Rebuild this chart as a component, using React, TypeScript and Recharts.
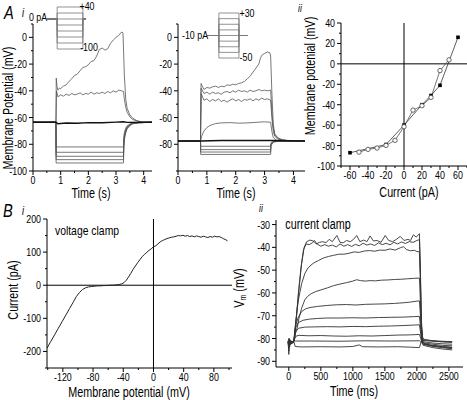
import React from "react";
import { LineChart, Line, XAxis, YAxis, ReferenceLine } from "recharts";

const FONT = '"Liberation Sans", Arial, Helvetica, sans-serif';
const SQ = 0.77; // the figure's lettering is horizontally condensed

// ---------- A i : current clamp traces, 0 pA holding ----------
const aiP40 = [[0,-63.5],[0.5,-63.7],[0.83,-63.5],[0.84,-30.5],[0.87,-37],[0.9,-39.5],[0.95,-38],[1.0,-38.3],[1.1,-36.5],[1.2,-35.5],[1.3,-33],[1.4,-31],[1.5,-28.5],[1.6,-27.5],[1.7,-25],[1.8,-22.5],[1.9,-22],[2.0,-20.5],[2.1,-18],[2.2,-17.5],[2.3,-14],[2.4,-9],[2.5,-8],[2.6,-9.5],[2.7,-8.5],[2.8,-4.5],[2.9,-2],[3.0,0],[3.1,1.5],[3.2,4],[3.25,3.5],[3.27,-8],[3.3,-28],[3.35,-46],[3.4,-53],[3.5,-58],[3.6,-60.5],[3.75,-62.3],[3.9,-63.1],[4.1,-63.5],[4.3,-63.6]];
const aiP20 = [[0,-63.5],[0.83,-63.5],[0.85,-40],[0.9,-44.5],[1.0,-43],[1.1,-44],[1.2,-42.5],[1.3,-43.5],[1.4,-42],[1.5,-43],[1.6,-42.5],[1.7,-41.5],[1.8,-43],[1.9,-42],[2.0,-42.5],[2.1,-41],[2.2,-42.5],[2.3,-41.5],[2.4,-42],[2.5,-41],[2.6,-42],[2.7,-40.5],[2.8,-41.5],[2.9,-40],[3.0,-41],[3.1,-39.5],[3.2,-40],[3.27,-40.5],[3.3,-46],[3.35,-52],[3.4,-56],[3.5,-59.5],[3.6,-61.5],[3.8,-62.8],[4.0,-63.4],[4.3,-63.5]];
const ai0 = [[0,-63.5],[0.83,-63.5],[0.9,-64.6],[1.2,-64.1],[1.6,-64.3],[2.0,-63.8],[2.5,-63.9],[3.0,-63.4],[3.27,-63.2],[3.4,-63.6],[4.3,-63.5]];
const aiM20 = [[0,-63.5],[0.83,-63.5],[0.835,-82],[3.27,-82],[3.28,-76],[3.3,-71.5],[3.35,-68],[3.4,-66.3],[3.5,-64.8],[3.6,-64.1],[3.8,-63.7],[4.3,-63.5]];
const aiM40 = [[0,-63.5],[0.83,-63.5],[0.835,-86],[3.27,-86],[3.28,-78],[3.3,-73],[3.35,-69],[3.4,-67],[3.5,-65.2],[3.6,-64.3],[3.8,-63.8],[4.3,-63.5]];
const aiM60 = [[0,-63.5],[0.83,-63.5],[0.835,-89],[3.27,-89],[3.28,-80],[3.3,-74.5],[3.35,-70],[3.4,-67.6],[3.5,-65.5],[3.6,-64.5],[3.8,-63.9],[4.3,-63.5]];
const aiM80 = [[0,-63.5],[0.83,-63.5],[0.835,-91.5],[3.27,-91.5],[3.28,-81],[3.3,-75.5],[3.35,-70.7],[3.4,-68],[3.5,-65.8],[3.6,-64.6],[3.8,-63.9],[4.3,-63.5]];
const aiM100 = [[0,-63.5],[0.83,-63.5],[0.835,-94],[3.27,-94],[3.28,-83],[3.3,-76.5],[3.35,-71.5],[3.4,-68.5],[3.5,-66],[3.6,-64.7],[3.8,-64],[4.3,-63.5]];

// ---------- A i i : current clamp traces, -10 pA holding ----------
const aiiP30 = [[0,-77.5],[0.78,-77.5],[0.8,-34.5],[0.85,-37],[0.9,-39],[1.0,-37.5],[1.1,-38],[1.2,-37],[1.3,-36.5],[1.4,-37.5],[1.5,-36.5],[1.6,-37],[1.7,-35.5],[1.8,-36],[1.9,-35],[2.0,-35.5],[2.1,-34.5],[2.2,-34],[2.3,-33],[2.4,-31],[2.5,-29],[2.6,-26],[2.7,-23],[2.8,-20],[2.85,-16],[2.9,-13.5],[3.0,-12],[3.1,-11],[3.18,-11.5],[3.21,-14],[3.25,-40],[3.3,-65],[3.35,-72],[3.45,-75],[3.6,-76.5],[3.8,-77.2],[4.4,-77.5]];
const aiiP20 = [[0,-77.5],[0.78,-77.5],[0.8,-38],[0.9,-42],[1.0,-41],[1.1,-42.5],[1.2,-41],[1.3,-42],[1.4,-41.5],[1.5,-42.5],[1.6,-41],[1.7,-40.5],[1.8,-41.5],[1.9,-40],[2.0,-41],[2.1,-39.5],[2.2,-40.5],[2.3,-40],[2.4,-41],[2.5,-39.5],[2.6,-40.5],[2.7,-40],[2.8,-39],[2.9,-40],[3.0,-39.5],[3.1,-40],[3.21,-39.5],[3.25,-55],[3.3,-68],[3.35,-73],[3.45,-75.5],[3.6,-76.8],[3.8,-77.3],[4.4,-77.5]];
const aiiP10 = [[0,-77.5],[0.78,-77.5],[0.8,-42],[0.9,-47],[1.0,-46],[1.1,-48],[1.2,-46.5],[1.3,-47.5],[1.4,-46],[1.5,-48],[1.6,-47],[1.7,-48.5],[1.8,-47],[1.9,-46],[2.0,-47.5],[2.1,-46.5],[2.2,-48],[2.3,-46.5],[2.4,-47],[2.5,-46],[2.6,-47.5],[2.7,-46],[2.8,-47],[2.9,-45.5],[3.0,-46.5],[3.1,-46],[3.21,-47],[3.25,-60],[3.3,-70],[3.35,-74],[3.45,-76],[3.6,-77],[4.4,-77.5]];
const aii0 = [[0,-77.5],[0.78,-77.5],[0.82,-74],[0.9,-70],[1.0,-67.5],[1.1,-66],[1.3,-64.5],[1.5,-64],[1.8,-63.8],[2.1,-64.2],[2.4,-64],[2.7,-63.6],[3.0,-63.2],[3.21,-63.5],[3.25,-70],[3.3,-75],[3.4,-77],[3.6,-77.6],[4.4,-77.5]];
const aiiM10 = [[0,-77.5],[0.78,-77.5],[1.5,-77.2],[3.0,-77.1],[3.21,-77.2],[4.4,-77.5]];
const aiiM20 = [[0,-77.5],[0.78,-77.5],[0.785,-81.5],[3.21,-81.5],[3.22,-79],[3.3,-77.8],[3.5,-77.5],[4.4,-77.5]];
const aiiM30 = [[0,-77.5],[0.78,-77.5],[0.785,-84],[3.21,-84],[3.22,-80],[3.3,-78],[3.5,-77.6],[4.4,-77.5]];
const aiiM40 = [[0,-77.5],[0.78,-77.5],[0.785,-85.8],[3.21,-85.8],[3.22,-80.5],[3.3,-78.2],[3.5,-77.6],[4.4,-77.5]];
const aiiM50 = [[0,-77.5],[0.78,-77.5],[0.785,-87.6],[3.21,-87.6],[3.22,-81],[3.3,-78.4],[3.5,-77.7],[4.4,-77.5]];

// step protocol insets
const insetAiLevels = [40, 20, 0, -20, -40, -60, -80, -100];
const insetAiiLevels = [30, 20, 10, 0, -10, -20, -30, -40, -50];
const insetAiTimes = [0, 0.26, 0.92, 1];
const insetAiiTimes = [0, 0.29, 0.78, 1];

// ---------- A ii : V-I relation ----------
const ivFilledI = [-60, -20, 0, 20, 30, 40, 60];
const ivFilledV = [-87, -79, -60, -40, -31, -21, 26];
const ivOpenI = [-50, -40, -30, -20, -10, 0, 10, 20, 30, 40, 50];
const ivOpenV = [-86.4, -83.7, -82.4, -79.8, -74.9, -61.5, -45.3, -41, -32.8, -6.6, 3.9];

// ---------- B i : voltage clamp ramp ----------
const biV = [-141,-136,-131,-126,-121,-116,-111,-106,-102,-98,-94,-90,-86,-82,-78,-74,-70,-66,-62,-58,-54,-50,-46,-42,-39,-36,-33,-30,-27,-24,-21,-18,-15,-12,-9,-6,-3,0,3,6,9,12,15,18,21,24,27,30,33,36,39,42,45,48,51,54,57,60,63,66,69,72,75,78,81,84,87,90,93,96,98];
const biI = [-190,-170,-150,-130,-110,-90,-70,-50,-34,-22,-13,-8,-5,-4,-3,-2,-2,-1,-1,0,0,1,2,4,8,15,25,36,48,58,68,77,86,93,99,105,110,116,119,125,131,135,138,141,143,145,146,148,150,149,151,148,150,147,149,146,149,147,145,148,146,144,147,145,148,146,147,144,140,137,134];

// ---------- B ii : current clamp, 10 sweeps ----------
const bii1 = [[-10,-81],[0,-85.5],[10,-80],[30,-82],[60,-81.5],[80,-81],[120,-70],[160,-58],[200,-47],[240,-40],[280,-37.5],[330,-36.8],[380,-37.2],[430,-38.5],[480,-37.8],[530,-37.5],[580,-38],[630,-36.5],[680,-37.5],[750,-34.8],[800,-37.8],[850,-38],[900,-37],[960,-37.5],[1010,-36.5],[1060,-34.8],[1110,-37.5],[1170,-36.8],[1220,-37.5],[1270,-35],[1320,-37.2],[1380,-37],[1440,-37.8],[1505,-34.8],[1560,-37],[1620,-37.5],[1680,-36.5],[1740,-35.2],[1800,-37],[1860,-36.5],[1900,-37],[1945,-34.5],[1990,-35.5],[2040,-34],[2055,-50],[2070,-72],[2090,-79.5],[2120,-80.5],[2250,-81],[2400,-81.5],[2550,-81.7]];
const bii2 = [[-10,-82],[0,-80],[10,-84],[30,-81],[60,-82],[80,-81.5],[115,-72],[150,-60],[190,-49],[230,-41],[270,-38.5],[320,-38.8],[370,-38],[400,-37],[440,-38.5],[500,-39.5],[560,-38.8],[620,-39.5],[680,-39],[740,-39.8],[800,-38.5],[860,-39.5],[920,-38.8],[980,-39.6],[1040,-38.7],[1100,-39.3],[1160,-38.2],[1220,-39],[1280,-38.5],[1340,-39.2],[1400,-38],[1460,-38.8],[1520,-38.2],[1580,-38.9],[1640,-37.8],[1700,-38.5],[1760,-37.6],[1820,-38.3],[1880,-37.5],[1940,-37.8],[2000,-37],[2040,-36.6],[2055,-52],[2070,-74],[2090,-80.5],[2120,-81.5],[2250,-82],[2400,-82.3],[2550,-82.5]];
const bii3 = [[-10,-81.5],[0,-83],[10,-80.5],[30,-82],[60,-81.5],[80,-80.5],[110,-72],[150,-63],[200,-56],[250,-51.5],[300,-49],[380,-47],[460,-45.8],[540,-44.7],[620,-44],[700,-43.5],[780,-43],[860,-43],[940,-42.6],[1020,-42],[1100,-42.2],[1180,-41.6],[1260,-41.4],[1340,-41.7],[1420,-41.2],[1500,-41.3],[1580,-40.7],[1660,-41.2],[1740,-40.2],[1790,-39.7],[1840,-41],[1900,-41.5],[1960,-41.3],[2000,-41.8],[2040,-42],[2055,-56],[2070,-75],[2090,-81],[2120,-82],[2250,-82.5],[2400,-83],[2550,-83.2]];
const bii4 = [[-10,-82],[0,-84],[10,-81],[30,-82.5],[60,-81.8],[80,-81],[110,-77],[130,-75.5],[160,-71],[200,-66.7],[250,-63],[290,-61.6],[350,-60.3],[420,-59.4],[500,-58.7],[600,-57.8],[700,-56.8],[800,-56.1],[900,-55.5],[1000,-54.8],[1060,-54.2],[1120,-54.6],[1200,-54.8],[1270,-54.6],[1350,-54.7],[1450,-54.4],[1550,-54.3],[1650,-54.1],[1750,-54],[1850,-53.8],[1950,-53.6],[2040,-53.5],[2055,-64],[2070,-77],[2090,-81.5],[2130,-82.5],[2250,-83],[2400,-83.5],[2550,-83.8]];
const bii5 = [[-10,-81.5],[0,-82.5],[10,-81],[60,-81.5],[80,-81],[110,-74],[150,-70.5],[200,-68.2],[260,-67],[330,-66.4],[450,-65.9],[600,-65.5],[750,-65.2],[900,-65.1],[1050,-65.3],[1200,-65],[1350,-64.9],[1500,-64.8],[1650,-64.6],[1800,-64.3],[1900,-64],[2000,-63.6],[2040,-63.5],[2060,-72],[2080,-80],[2100,-82],[2200,-83],[2400,-83.8],[2550,-84.2]];
const bii6 = [[-10,-81.3],[0,-80.5],[60,-81.5],[80,-81],[110,-75],[150,-73],[220,-72],[320,-71.5],[450,-71.2],[600,-71],[800,-71],[1000,-70.9],[1200,-71],[1400,-70.8],[1600,-70.7],[1800,-70.6],[1950,-70.4],[2040,-70.3],[2060,-76],[2080,-81],[2100,-82.5],[2250,-83.5],[2400,-84],[2550,-84.5]];
const bii7 = [[-10,-81.5],[0,-82],[60,-81.3],[80,-81],[110,-77],[150,-75.5],[250,-75],[400,-74.9],[600,-74.8],[800,-74.9],[1000,-74.7],[1200,-74.8],[1400,-74.6],[1600,-74.5],[1800,-74.3],[1950,-74.1],[2040,-74],[2060,-78],[2080,-82],[2100,-83],[2250,-84],[2400,-84.6],[2550,-85]];
const bii8 = [[-10,-81],[0,-83.5],[60,-81.5],[80,-81],[110,-79],[160,-78.6],[300,-78.8],[500,-78.7],[700,-78.9],[900,-79],[1100,-78.8],[1300,-78.9],[1500,-78.7],[1700,-78.5],[1900,-78.4],[2040,-78.2],[2060,-80],[2080,-82],[2100,-82.5],[2250,-83.2],[2400,-83.6],[2550,-84]];
const bii9 = [[-10,-81],[60,-81.5],[80,-81],[110,-81.1],[400,-81.1],[800,-81.2],[1200,-81],[1600,-81.1],[2040,-81],[2060,-81.5],[2100,-80.5],[2250,-81],[2400,-81.2],[2550,-81.4]];
const bii10 = [[-10,-81.5],[0,-87],[10,-82],[60,-82],[80,-81.5],[100,-83.5],[200,-83.7],[500,-83.6],[800,-83.7],[1000,-83.5],[1100,-82.8],[1150,-83.6],[1400,-83.7],[1700,-83.6],[1900,-83.8],[2040,-84],[2060,-82],[2080,-80.5],[2150,-81],[2300,-81.3],[2550,-81.5]];

// ---------- ticks ----------
const aiXLabels = [0, 1, 2, 3, 4];
const aiXTicks = [0, 0.5, 1, 1.5, 2, 2.5, 3, 3.5, 4];
const aiYLabels = [0, -20, -40, -60, -80, -100];
const aiYTicks = [10, 0, -10, -20, -30, -40, -50, -60, -70, -80, -90, -100];
const aiiYLabels = [0, -20, -40, -60, -80];
const ivXLabels = [-60, -40, -20, 0, 20, 40, 60];
const ivXTicks = [-70, -60, -50, -40, -30, -20, -10, 0, 10, 20, 30, 40, 50, 60, 70];
const ivYLabels = [40, 20, 0, -20, -40, -60, -80, -100];
const ivYTicks = [40, 30, 20, 10, 0, -10, -20, -30, -40, -50, -60, -70, -80, -90, -100];
const biXLabels = [-120, -80, -40, 0, 40, 80];
const biXTicks = [-140, -120, -100, -80, -60, -40, -20, 0, 20, 40, 60, 80, 100];
const biYLabels = [200, 100, 0, -100, -200];
const biYTicks = [200, 150, 100, 50, 0, -50, -100, -150, -200, -250];
const biiXLabels = [0, 500, 1000, 1500, 2000, 2500];
const biiXTicks = [0, 250, 500, 750, 1000, 1250, 1500, 1750, 2000, 2250, 2500];
const biiYLabels = [-30, -40, -50, -60, -70, -80, -90];
const biiYTicks = [-30, -35, -40, -45, -50, -55, -60, -65, -70, -75, -80, -85, -90];

const toPts = (a: number[][]) => a.map(([t, v]) => ({ t, v }));
const zipPts = (xs: number[], ys: number[]) => xs.map((t, i) => ({ t, v: ys[i] }));
const pulse = (times: number[], base: number, level: number) =>
  toPts([[times[0], base], [times[1], base], [times[1], level], [times[2], level], [times[2], base], [times[3], base]]);

type Rect = { x: number; y: number; w: number; h: number };
const ML = 42, MT = 8, MR = 8, MB = 26;
const geom = (r: Rect) => ({
  style: { position: "absolute" as const, left: r.x - ML, top: r.y - MT },
  width: r.w + ML + MR,
  height: r.h + MT + MB,
  margin: { top: MT, right: MR, bottom: 0, left: 0 },
});

function tickFn(side: "x" | "y", labels: number[], fs = 11.5) {
  return (p: any) => {
    const v = p.payload.value;
    const lab = labels.some((l) => Math.abs(l - v) < 1e-6);
    const len = lab ? 4 : 2;
    if (side === "x") {
      return (
        <g>
          <line x1={p.x} y1={p.y} x2={p.x} y2={p.y + len} stroke="#000" strokeWidth={1} />
          {lab && (
            <text transform={`translate(${p.x},${p.y + 12.5}) scale(${SQ},1)`} textAnchor="middle" fontSize={fs} fontFamily={FONT} fill="#000">
              {v}
            </text>
          )}
        </g>
      );
    }
    return (
      <g>
        <line x1={p.x} y1={p.y} x2={p.x - len} y2={p.y} stroke="#000" strokeWidth={1} />
        {lab && (
          <text transform={`translate(${p.x - 6},${p.y + 4}) scale(${SQ},1)`} textAnchor="end" fontSize={fs} fontFamily={FONT} fill="#000">
            {v}
          </text>
        )}
      </g>
    );
  };
}

const Txt = ({ x, y, size = 14, rot = false, style = {}, children }: any) => (
  <div
    style={{
      position: "absolute",
      left: x,
      top: y,
      fontFamily: FONT,
      fontSize: size,
      lineHeight: 1,
      whiteSpace: "nowrap",
      color: "#000",
      transform: `translate(-50%,-50%) ${rot ? "rotate(-90deg) " : ""}scaleX(${SQ})`,
      ...style,
    }}
  >
    {children}
  </div>
);

const axisProps = { stroke: "#000", tickSize: 0, tickMargin: 0, interval: 0 as const, allowDataOverflow: true };

const Square = (p: any) => (p.cx == null ? null : <rect x={p.cx - 1.8} y={p.cy - 1.8} width={3.6} height={3.6} fill="#000" />);
const Ring = (p: any) => (p.cx == null ? null : <circle cx={p.cx} cy={p.cy} r={2.2} fill="#fff" stroke="#444" strokeWidth={0.8} />);

export default function App() {
  const rAi = { x: 33, y: 24, w: 119, h: 147 };
  const rAii = { x: 178, y: 24, w: 127, h: 147 };
  const rIv = { x: 341, y: 23, w: 126, h: 143 };
  const rBi = { x: 47, y: 219, w: 185, h: 149 };
  const rBii = { x: 276, y: 220, w: 187, h: 147 };

  const aiTraces = [aiM100, aiM80, aiM60, aiM40, aiM20, aiP20, aiP40, ai0];
  const aiiTraces = [aiiM50, aiiM40, aiiM30, aiiM20, aiiP30, aiiP20, aiiP10, aii0, aiiM10];
  const biiTraces = [bii1, bii2, bii3, bii4, bii5, bii6, bii7, bii8, bii9, bii10];

  return (
    <div style={{ position: "absolute", left: 0, top: 0, width: 467, height: 400, overflow: "hidden", background: "#fff" }}>
      {/* A i */}
      <LineChart {...geom(rAi)}>
        <XAxis dataKey="t" type="number" domain={[0, 4.3]} ticks={aiXTicks} tick={tickFn("x", aiXLabels)} height={MB} {...axisProps} />
        <YAxis dataKey="v" type="number" domain={[-100, 10]} ticks={aiYTicks} tick={tickFn("y", aiYLabels)} width={ML} {...axisProps} />
        {aiTraces.map((d, i) => (
          <Line key={i} data={toPts(d)} dataKey="v" type="linear" dot={false} stroke={i === aiTraces.length - 1 ? "#111" : "#555"} strokeWidth={i === aiTraces.length - 1 ? 1.4 : 0.8} isAnimationActive={false} />
        ))}
      </LineChart>

      {/* A i inset protocol */}
      <LineChart style={{ position: "absolute", left: 45, top: 5 }} width={43} height={46} margin={{ top: 2, right: 2, bottom: 2, left: 2 }}>
        <XAxis dataKey="t" type="number" domain={[0, 1]} hide />
        <YAxis dataKey="v" type="number" domain={[-100, 40]} hide />
        {insetAiLevels.map((L, i) => (
          <Line key={i} data={pulse(insetAiTimes, 0, L)} dataKey="v" type="linear" dot={false} stroke="#777" strokeWidth={0.8} isAnimationActive={false} />
        ))}
      </LineChart>

      {/* A ii */}
      <LineChart {...geom(rAii)}>
        <XAxis dataKey="t" type="number" domain={[0, 4.4]} ticks={aiXTicks} tick={tickFn("x", aiXLabels)} height={MB} {...axisProps} />
        <YAxis dataKey="v" type="number" domain={[-100, 10]} ticks={aiYTicks} tick={tickFn("y", aiiYLabels)} width={ML} {...axisProps} />
        {aiiTraces.map((d, i) => (
          <Line key={i} data={toPts(d)} dataKey="v" type="linear" dot={false} stroke={i === aiiTraces.length - 1 ? "#111" : "#555"} strokeWidth={i === aiiTraces.length - 1 ? 1.4 : 0.8} isAnimationActive={false} />
        ))}
      </LineChart>

      {/* A ii inset protocol */}
      <LineChart style={{ position: "absolute", left: 205, top: 11 }} width={45} height={49} margin={{ top: 2, right: 2, bottom: 2, left: 2 }}>
        <XAxis dataKey="t" type="number" domain={[0, 1]} hide />
        <YAxis dataKey="v" type="number" domain={[-50, 30]} hide />
        {insetAiiLevels.map((L, i) => (
          <Line key={i} data={pulse(insetAiiTimes, -10, L)} dataKey="v" type="linear" dot={false} stroke="#777" strokeWidth={0.8} isAnimationActive={false} />
        ))}
      </LineChart>

      {/* A ii (right): V-I */}
      <LineChart {...geom(rIv)}>
        <XAxis dataKey="t" type="number" domain={[-70, 70]} ticks={ivXTicks} tick={tickFn("x", ivXLabels)} height={MB} {...axisProps} />
        <YAxis dataKey="v" type="number" domain={[-100, 40]} ticks={ivYTicks} tick={tickFn("y", ivYLabels)} width={ML} {...axisProps} />
        <ReferenceLine x={0} stroke="#000" strokeWidth={1} />
        <ReferenceLine y={0} stroke="#000" strokeWidth={1} />
        <Line data={zipPts(ivFilledI, ivFilledV)} dataKey="v" type="linear" stroke="#333" strokeWidth={0.8} dot={<Square />} isAnimationActive={false} />
        <Line data={zipPts(ivOpenI, ivOpenV)} dataKey="v" type="linear" stroke="#555" strokeWidth={0.8} dot={<Ring />} isAnimationActive={false} />
      </LineChart>

      {/* B i */}
      <LineChart {...geom(rBi)}>
        <XAxis dataKey="t" type="number" domain={[-141, 104]} ticks={biXTicks} tick={tickFn("x", biXLabels)} height={MB} {...axisProps} />
        <YAxis dataKey="v" type="number" domain={[-250, 200]} ticks={biYTicks} tick={tickFn("y", biYLabels)} width={ML} {...axisProps} />
        <ReferenceLine x={0} stroke="#000" strokeWidth={1} />
        <ReferenceLine y={0} stroke="#000" strokeWidth={1} />
        <Line data={zipPts(biV, biI)} dataKey="v" type="linear" dot={false} stroke="#222" strokeWidth={1} isAnimationActive={false} />
      </LineChart>

      {/* B ii */}
      <LineChart {...geom(rBii)}>
        <XAxis dataKey="t" type="number" domain={[-200, 2720]} ticks={biiXTicks} tick={tickFn("x", biiXLabels)} height={MB} {...axisProps} />
        <YAxis dataKey="v" type="number" domain={[-92.5, -28]} ticks={biiYTicks} tick={tickFn("y", biiYLabels)} width={ML} {...axisProps} />
        {biiTraces.map((d, i) => (
          <Line key={i} data={toPts(d)} dataKey="v" type="linear" dot={false} stroke="#333" strokeWidth={0.9} isAnimationActive={false} />
        ))}
      </LineChart>

      {/* lettering */}
      <Txt x={9} y={12} size={19} style={{ fontStyle: "italic" }}>A</Txt>
      <Txt x={23} y={13} size={12} style={{ fontStyle: "italic" }}>i</Txt>
      <Txt x={300} y={8} size={11} style={{ fontStyle: "italic" }}>ii</Txt>
      <Txt x={8} y={210} size={19} style={{ fontStyle: "italic" }}>B</Txt>
      <Txt x={23} y={211} size={12} style={{ fontStyle: "italic" }}>i</Txt>
      <Txt x={261} y={208} size={11} style={{ fontStyle: "italic" }}>ii</Txt>

      <Txt x={38} y={18} size={11.5}>0 pA</Txt>
      <Txt x={87} y={7} size={11.5}>+40</Txt>
      <Txt x={89} y={48} size={11.5}>-100</Txt>
      <Txt x={195} y={36} size={11.5}>-10 pA</Txt>
      <Txt x={247} y={14} size={11.5}>+30</Txt>
      <Txt x={246} y={58} size={11.5}>-50</Txt>

      <Txt x={8} y={108} rot>Membrane Potential (mV)</Txt>
      <Txt x={91} y={193}>Time (s)</Txt>
      <Txt x={236} y={193}>Time (s)</Txt>
      <Txt x={310} y={76} rot>Membrane potenial (mV)</Txt>
      <Txt x={409} y={192}>Current (pA)</Txt>

      <Txt x={87} y={231} size={13.5}>voltage clamp</Txt>
      <Txt x={13} y={290} rot>Current (pA)</Txt>
      <Txt x={129} y={392}>Membrane potential (mV)</Txt>

      <Txt x={318} y={224} size={14}>current clamp</Txt>
      <Txt x={240} y={288} rot>
        V<sub style={{ fontSize: 9, verticalAlign: "-2px" }}>m</sub> (mV)
      </Txt>
      <Txt x={354} y={391}>Time (ms)</Txt>
    </div>
  );
}
